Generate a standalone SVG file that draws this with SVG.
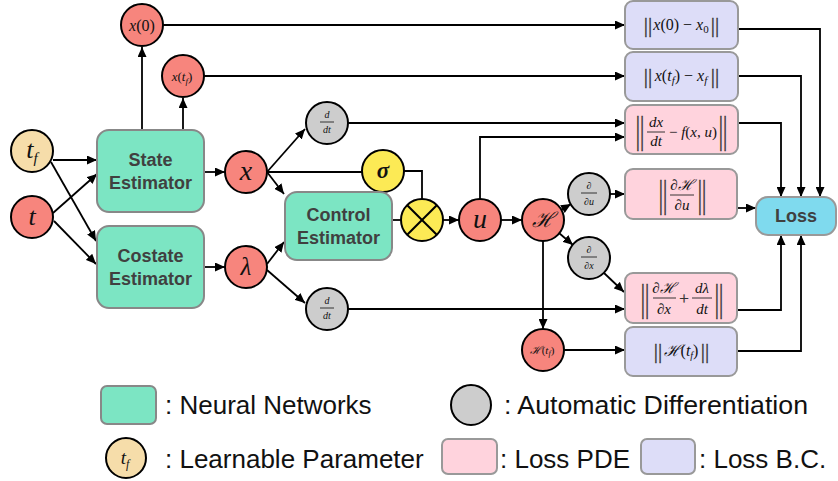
<svg xmlns="http://www.w3.org/2000/svg" width="838" height="481" viewBox="0 0 838 481">
<style>
.red{fill:#F7857D;stroke:#000;stroke-width:2}
.beige{fill:#F6DDAA;stroke:#000;stroke-width:2}
.gray{fill:#CDCDCD;stroke:#000;stroke-width:2}
.yel{fill:#FCEA55;stroke:#000;stroke-width:2}
.nn{fill:#7CE5C3;stroke:#888;stroke-width:2}
.pde{fill:#FFD3DD;stroke:#999;stroke-width:2}
.bc{fill:#DDDDF8;stroke:#999;stroke-width:2}
.loss{fill:#7FDAEE;stroke:#999;stroke-width:2}
.lbl{font-family:"Liberation Sans",Arial,sans-serif;font-weight:bold;font-size:18px;fill:#404040;text-anchor:middle}
.leg{font-family:"Liberation Sans",Arial,sans-serif;font-size:26px;fill:#111}
.m{font-family:"Liberation Serif","Times New Roman",serif;font-style:italic;fill:#111;text-anchor:middle}
.up{font-style:normal}
.nb{font-family:"Liberation Serif","Times New Roman",serif;fill:#333;stroke:#333;stroke-width:0.3;text-anchor:middle}
.c{fill:none;stroke:#000;stroke-width:1.8}
.a{marker-end:url(#ah)}
.bar{stroke:#222;stroke-width:0.9}
.xl{stroke:#000;stroke-width:2}
</style>
<defs>
<marker id="ah" markerUnits="userSpaceOnUse" markerWidth="11" markerHeight="9" refX="10" refY="4.5" orient="auto">
<path d="M0,0 L10,4.5 L0,9 z" fill="#000"/>
</marker>
</defs>

<g id="connectors">
<line class="c a" x1="53" y1="160" x2="97" y2="160"/>
<line class="c a" x1="51" y1="162" x2="96" y2="241"/>
<line class="c a" x1="53" y1="213" x2="97" y2="174"/>
<line class="c a" x1="54" y1="221" x2="96" y2="264"/>
<line class="c a" x1="142" y1="130" x2="142" y2="47"/>
<line class="c a" x1="183" y1="130" x2="183" y2="98"/>
<line class="c a" x1="204" y1="172" x2="225" y2="172"/>
<line class="c a" x1="204" y1="267" x2="225" y2="267"/>
<line class="c a" x1="267" y1="172" x2="305" y2="129"/>
<line class="c a" x1="267" y1="172" x2="284" y2="194"/>
<polyline class="c" points="267,172 362,172"/>
<polyline class="c" points="404,171 422,171 422,199"/>
<line class="c a" x1="267" y1="264" x2="284" y2="242"/>
<line class="c a" x1="267" y1="270" x2="305" y2="303"/>
<line class="c" x1="392" y1="220" x2="401" y2="220"/>
<line class="c a" x1="443" y1="220" x2="459" y2="220"/>
<line class="c a" x1="501" y1="220" x2="522" y2="220"/>
<polyline class="c a" points="480,199 480,137 625,137"/>
<line class="c a" x1="561" y1="210" x2="571" y2="204"/>
<line class="c a" x1="559" y1="233" x2="573" y2="245"/>
<line class="c a" x1="543" y1="241" x2="543" y2="329"/>
<line class="c a" x1="610" y1="194" x2="625" y2="194"/>
<line class="c a" x1="604" y1="273" x2="624" y2="292"/>
<line class="c a" x1="564" y1="350" x2="625" y2="350"/>
<line class="c a" x1="162" y1="25" x2="625" y2="25"/>
<line class="c a" x1="204" y1="76" x2="625" y2="76"/>
<line class="c a" x1="348" y1="123" x2="625" y2="123"/>
<line class="c a" x1="348" y1="309" x2="625" y2="309"/>
<polyline class="c a" points="738,29 820,29 820,197"/>
<polyline class="c a" points="738,76 801,76 801,197"/>
<polyline class="c a" points="738,123 781,123 781,197"/>
<line class="c a" x1="737" y1="208" x2="756" y2="208"/>
<polyline class="c a" points="737,310 781,310 781,235"/>
<polyline class="c a" points="737,351 801,351 801,235"/>
</g>

<g id="n-tf">
<circle class="beige" cx="32" cy="151" r="21"/>
<text class="m" x="32" y="158" font-size="26">t<tspan font-size="15" dy="5">f</tspan></text>
</g>
<g id="n-t">
<circle class="red" cx="32" cy="217" r="21"/>
<text class="m" x="32" y="225" font-size="26">t</text>
</g>
<g id="n-state">
<rect class="nn" x="97" y="130" width="107" height="82" rx="12"/>
<text class="lbl" x="150.5" y="166">State</text>
<text class="lbl" x="150.5" y="189">Estimator</text>
</g>
<g id="n-costate">
<rect class="nn" x="97" y="226" width="107" height="82" rx="12"/>
<text class="lbl" x="150.5" y="262">Costate</text>
<text class="lbl" x="150.5" y="285">Estimator</text>
</g>
<g id="n-x0">
<circle class="red" cx="142" cy="25" r="21"/>
<text class="m" x="142" y="31" font-size="16">x<tspan class="up">(0)</tspan></text>
</g>
<g id="n-xtf">
<circle class="red" cx="183" cy="76" r="21"/>
<text class="m" x="182" y="81" font-size="13">x<tspan class="up">(</tspan>t<tspan font-size="9" dy="3">f</tspan><tspan class="up" dy="-3">)</tspan></text>
</g>
<g id="n-x">
<circle class="red" cx="246" cy="172" r="21"/>
<text class="m" x="246" y="180" font-size="28">x</text>
</g>
<g id="n-lambda">
<circle class="red" cx="246" cy="267" r="21"/>
<text class="m" x="246" y="275" font-size="25">λ</text>
</g>
<g id="n-ddt1">
<circle class="gray" cx="327" cy="123" r="21"/>
<text class="m" x="327" y="118" font-size="10">d</text>
<line class="bar" x1="320" y1="122" x2="334" y2="122"/>
<text class="m" x="327" y="133" font-size="10">dt</text>
</g>
<g id="n-sigma">
<circle class="yel" cx="383" cy="171" r="21"/>
<text class="m" x="383" y="178" font-size="23" font-weight="bold">σ</text>
</g>
<g id="n-control">
<rect class="nn" x="285" y="192" width="107" height="68" rx="12"/>
<text class="lbl" x="338.5" y="221">Control</text>
<text class="lbl" x="338.5" y="244">Estimator</text>
</g>
<g id="n-mult">
<circle class="yel" cx="422" cy="220" r="21"/>
<line class="xl" x1="407.2" y1="205.2" x2="436.8" y2="234.8"/>
<line class="xl" x1="436.8" y1="205.2" x2="407.2" y2="234.8"/>
</g>
<g id="n-u">
<circle class="red" cx="480" cy="220" r="21"/>
<text class="m" x="480" y="228" font-size="28">u</text>
</g>
<g id="n-H">
<circle class="red" cx="543" cy="220" r="21"/>
<text class="m" x="543" y="227" font-size="21">ℋ</text>
</g>
<g id="n-ddu">
<circle class="gray" cx="589" cy="194" r="21"/>
<text class="m" x="589" y="189" font-size="10">∂</text>
<line class="bar" x1="581" y1="193" x2="597" y2="193"/>
<text class="m" x="589" y="205" font-size="10">∂u</text>
</g>
<g id="n-ddx">
<circle class="gray" cx="589" cy="258" r="21"/>
<text class="m" x="589" y="253" font-size="10">∂</text>
<line class="bar" x1="581" y1="257" x2="597" y2="257"/>
<text class="m" x="589" y="269" font-size="10">∂x</text>
</g>
<g id="n-ddt2">
<circle class="gray" cx="327" cy="309" r="21"/>
<text class="m" x="327" y="304" font-size="10">d</text>
<line class="bar" x1="320" y1="308" x2="334" y2="308"/>
<text class="m" x="327" y="319" font-size="10">dt</text>
</g>
<g id="n-Htf">
<circle class="red" cx="543" cy="350" r="21"/>
<text class="m" x="542" y="354" font-size="11">ℋ<tspan class="up">(</tspan>t<tspan font-size="8" dy="2">f</tspan><tspan class="up" dy="-2">)</tspan></text>
</g>

<g id="b-x0">
<rect class="bc" x="625" y="1" width="113" height="48" rx="8"/>
<text class="nb" x="648" y="32" font-size="21">||</text>
<text class="m" x="681" y="30" font-size="16">x<tspan class="up">(0) − </tspan>x<tspan class="up" font-size="11" dy="3">0</tspan></text>
<text class="nb" x="715" y="32" font-size="21">||</text>
</g>
<g id="b-xtf">
<rect class="bc" x="625" y="52" width="113" height="49" rx="8"/>
<text class="nb" x="648" y="83" font-size="21">||</text>
<text class="m" x="681" y="81" font-size="16">x<tspan class="up">(</tspan>t<tspan font-size="11" dy="3">f</tspan><tspan class="up" dy="-3">) − </tspan>x<tspan font-size="11" dy="3">f</tspan></text>
<text class="nb" x="715" y="83" font-size="21">||</text>
</g>
<g id="b-dyn">
<rect class="pde" x="625" y="105" width="113" height="49" rx="8"/>
<text class="nb" font-size="21" transform="translate(640,143) scale(1,1.8)">||</text>
<text class="m" x="656" y="127" font-size="15">dx</text>
<line class="bar" x1="647" y1="132" x2="665" y2="132"/>
<text class="m" x="656" y="146" font-size="15">dt</text>
<text class="m" x="693" y="137" font-size="15"><tspan class="up">− </tspan>f<tspan class="up">(</tspan>x<tspan class="up">, </tspan>u<tspan class="up">)</tspan></text>
<text class="nb" font-size="21" transform="translate(723,143) scale(1,1.8)">||</text>
</g>
<g id="b-dHdu">
<rect class="pde" x="625" y="169" width="112" height="50" rx="8"/>
<text class="nb" font-size="21" transform="translate(663,207) scale(1,1.8)">||</text>
<text class="m" x="682" y="190" font-size="15">∂ℋ</text>
<line class="bar" x1="670" y1="195" x2="694" y2="195"/>
<text class="m" x="682" y="210" font-size="15">∂u</text>
<text class="nb" font-size="21" transform="translate(702,207) scale(1,1.8)">||</text>
</g>
<g id="b-dHdx">
<rect class="pde" x="625" y="273" width="112" height="50" rx="8"/>
<text class="nb" font-size="21" transform="translate(645,311) scale(1,1.8)">||</text>
<text class="m" x="664" y="293" font-size="15">∂ℋ</text>
<line class="bar" x1="653" y1="298" x2="676" y2="298"/>
<text class="m" x="664" y="314" font-size="15">∂x</text>
<text class="nb" x="684" y="304" font-size="17">+</text>
<text class="m" x="702" y="293" font-size="15">dλ</text>
<line class="bar" x1="692" y1="298" x2="712" y2="298"/>
<text class="m" x="702" y="314" font-size="15">dt</text>
<text class="nb" font-size="21" transform="translate(719,311) scale(1,1.8)">||</text>
</g>
<g id="b-Htf">
<rect class="bc" x="625" y="327" width="112" height="49" rx="8"/>
<text class="nb" x="658" y="358" font-size="21">||</text>
<text class="m" x="681" y="356" font-size="16">ℋ<tspan class="up">(</tspan>t<tspan font-size="10" dy="3">f</tspan><tspan class="up" dy="-3">)</tspan></text>
<text class="nb" x="705" y="358" font-size="21">||</text>
</g>
<g id="n-loss">
<rect class="loss" x="756" y="197" width="80" height="38" rx="12"/>
<text class="lbl" x="796" y="222">Loss</text>
</g>

<g id="legend">
<rect class="nn" x="101" y="386" width="55" height="38" rx="6"/>
<text class="leg" x="165" y="414">: Neural Networks</text>
<circle class="gray" cx="471" cy="405" r="20"/>
<text class="leg" x="504" y="414" textLength="304" lengthAdjust="spacingAndGlyphs">: Automatic Differentiation</text>
<circle class="beige" cx="126" cy="458" r="20"/>
<text class="m" x="125" y="464" font-size="19">t<tspan font-size="12" dy="4">f</tspan></text>
<text class="leg" x="165" y="468">: Learnable Parameter</text>
<rect class="pde" x="442" y="439" width="55" height="35" rx="6"/>
<text class="leg" x="500" y="468">: Loss PDE</text>
<rect class="bc" x="641" y="439" width="54" height="35" rx="6"/>
<text class="leg" x="699" y="468">: Loss B.C.</text>
</g>
</svg>
